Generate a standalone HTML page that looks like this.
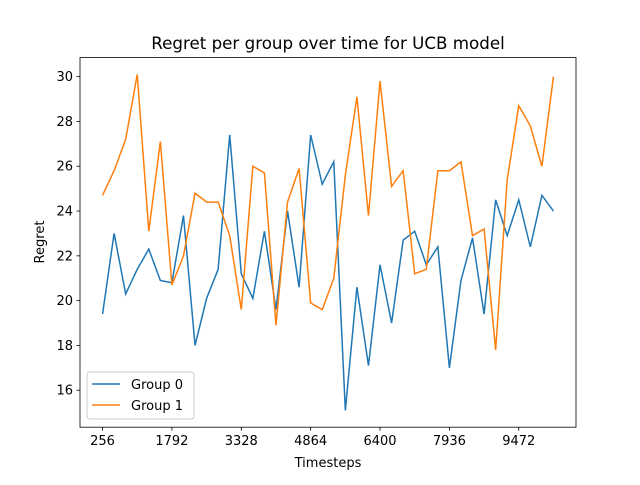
<!DOCTYPE html>
<html><head><meta charset="utf-8"><style>
body{margin:0;background:#fff}
svg text{font-family:"DejaVu Sans","Liberation Sans",sans-serif;fill:#000}
</style></head><body>
<svg id="chart" width="640" height="480" xmlns="http://www.w3.org/2000/svg">
<rect width="640" height="480" fill="#fff"/>
<text x="328" y="49" font-size="16.7" text-anchor="middle">Regret per group over time for UCB model</text>
<g id="marks"></g>
<rect x="80" y="57.6" width="496" height="369.6" fill="none" stroke="#000" stroke-width="0.8"/>
<g id="xticks"></g><g id="yticks"></g>
<text x="328" y="467" font-size="13" text-anchor="middle">Timesteps</text>
<text x="44" y="242" font-size="13" text-anchor="middle" transform="rotate(-90 44 242)">Regret</text>
<g>
<rect x="87" y="372" width="107" height="47" rx="3" fill="#fff" fill-opacity="0.8" stroke="#ccc"/>
<g><line x1="92" y1="384" x2="120" y2="384" stroke="#1f77b4" stroke-width="1.5"/><text x="131" y="389" font-size="13">Group 0</text></g>
<g><line x1="92" y1="405" x2="120" y2="405" stroke="#ff7f0e" stroke-width="1.5"/><text x="131" y="410" font-size="13">Group 1</text></g>
</g>
</svg>
<script>
const timesteps = Array.from({length:40},(_,i)=>256+i*256);
const group0 = [19.4,23.0,20.3,21.4,22.3,20.9,20.8,23.8,18.0,20.1,21.4,27.4,21.2,20.1,23.1,19.6,24.0,20.6,27.4,25.2,26.2,15.1,20.6,17.1,21.6,19.0,22.7,23.1,21.6,22.4,17.0,20.9,22.8,19.4,24.5,22.9,24.5,22.4,24.7,24.0];
const group1 = [24.7,25.8,27.2,30.1,23.1,27.1,20.7,22.0,24.8,24.4,24.4,22.9,19.6,26.0,25.7,18.9,24.4,25.9,19.9,19.6,21.0,25.6,29.1,23.8,29.8,25.1,25.8,21.2,21.4,25.8,25.8,26.2,22.9,23.2,17.8,25.4,28.7,27.8,26.0,30.0];
const xTicks = [256,1792,3328,4864,6400,7936,9472];
const yTicks = [16,18,20,22,24,26,28,30];
const NS="http://www.w3.org/2000/svg";
const x0=Math.min(...timesteps),x1=Math.max(...timesteps),xm=(x1-x0)*0.05;
const all=group0.concat(group1),y0=Math.min(...all),y1=Math.max(...all),ym=(y1-y0)*0.05;
const X=v=>80+(v-(x0-xm))/((x1-x0)+2*xm)*496;
const Y=v=>427.2-(v-(y0-ym))/((y1-y0)+2*ym)*369.6;
const marks=document.getElementById('marks');
[[group0,'#1f77b4','line-group-0'],[group1,'#ff7f0e','line-group-1']].forEach(([d,c,n])=>{
  const p=document.createElementNS(NS,'path');
  p.setAttribute('d',d.map((v,i)=>(i?'L':'M')+X(timesteps[i]).toFixed(2)+' '+Y(v).toFixed(2)).join(''));
  p.setAttribute('fill','none');p.setAttribute('stroke',c);p.setAttribute('stroke-width','1.5');
  
  
  marks.appendChild(p);
});
const xt=document.getElementById('xticks');
xTicks.forEach(v=>{
  const g=document.createElementNS(NS,'g');
  
  
  g.innerHTML=`<line x1="${X(v)}" y1="427.2" x2="${X(v)}" y2="430.7" stroke="#000" stroke-width="0.8"/><text x="${X(v)}" y="445" font-size="13" text-anchor="middle">${v}</text>`;
  xt.appendChild(g);
});
const yt=document.getElementById('yticks');
yTicks.forEach(v=>{
  const g=document.createElementNS(NS,'g');
  
  
  g.innerHTML=`<line x1="76.5" y1="${Y(v)}" x2="80" y2="${Y(v)}" stroke="#000" stroke-width="0.8"/><text x="73" y="${Y(v)+4.5}" font-size="13" text-anchor="end">${v}</text>`;
  yt.appendChild(g);
});
</script>
</body></html>
